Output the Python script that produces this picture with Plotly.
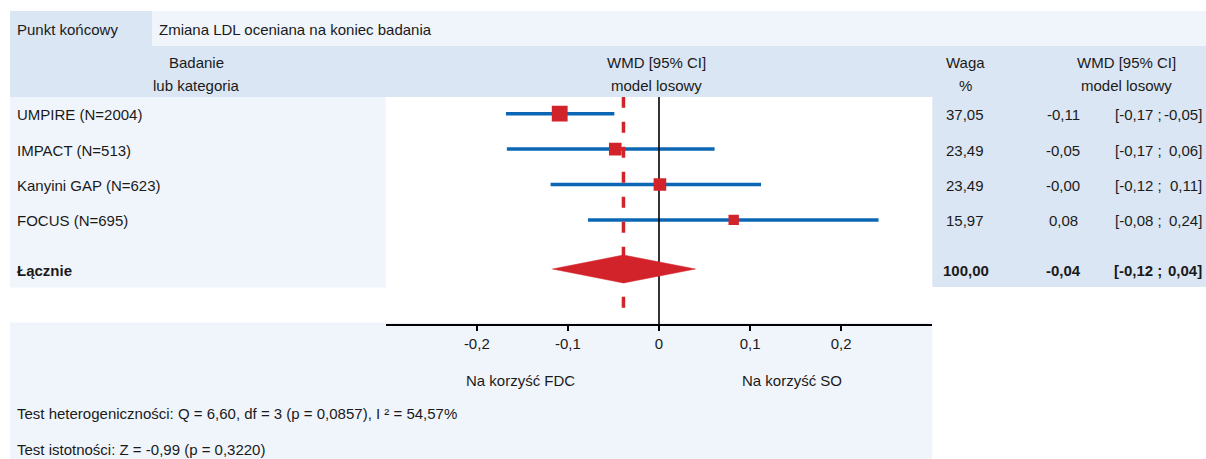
import math
import plotly.graph_objects as go

# ---------------- data ----------------
studies = ["UMPIRE (N=2004)", "IMPACT (N=513)", "Kanyini GAP (N=623)", "FOCUS (N=695)"]
wmd = [-0.109, -0.048, 0.001, 0.082]
ci_lo = [-0.168, -0.167, -0.119, -0.078]
ci_hi = [-0.049, 0.061, 0.112, 0.241]
weights = [37.05, 23.49, 23.49, 15.97]
weight_txt = ["37,05", "23,49", "23,49", "15,97"]
wmd_txt = ["-0,11", "-0,05", "-0,00", "0,08"]
lo_txt = ["[-0,17 ;", "[-0,17 ;", "[-0,12 ;", "[-0,08 ;"]
hi_txt = ["-0,05]", "0,06]", "0,11]", "0,24]"]

pooled_label = "Łącznie"
pooled_wmd = -0.039
pooled_lo = -0.117
pooled_hi = 0.040
pooled_weight_txt = "100,00"
pooled_wmd_txt = "-0,04"
pooled_lo_txt = "[-0,12 ;"
pooled_hi_txt = "0,04]"

tick_vals = [-0.2, -0.1, 0, 0.1, 0.2]
tick_text = ["-0,2", "-0,1", "0", "0,1", "0,2"]

endpoint_label = "Punkt końcowy"
endpoint_text = "Zmiana LDL oceniana na koniec badania"
hetero_text = "Test heterogeniczności: Q = 6,60, df = 3 (p = 0,0857), I ² = 54,57%"
signif_text = "Test istotności: Z = -0,99 (p = 0,3220)"
favours_left = "Na korzyść FDC"
favours_right = "Na korzyść SO"

# ---------------- layout constants (page pixels) ----------------
W, H = 1206, 459
PLOT_X0, PLOT_X1 = 385.7, 932.3
PLOT_Y0, PLOT_Y1 = 97, 324
ROW0, ROW_STEP = 113.7, 35.4
POOLED_Y = 269
DIAMOND_HALF = 14
TEXT_DY = 1.0
LEFT_X = 15

DARK = "#dae6f3"
LIGHT = "#f0f5fb"
RED = "#d2232a"
BLUE = "#0b67b3"
TXT = "#1a1a1a"
FONT = "Liberation Sans, Arial, sans-serif"
FS = 15

row_y = [ROW0 + i * ROW_STEP for i in range(len(studies))]

def px(x):
    return x / W

def py(y):
    return 1 - y / H

shapes = []
def rect(x0, y0, x1, y1, color):
    shapes.append(dict(type="rect", xref="paper", yref="paper",
                       x0=px(x0), x1=px(x1), y0=py(y1), y1=py(y0),
                       fillcolor=color, line=dict(width=0), layer="below"))

rect(10, 11, 152, 46, DARK)
rect(152, 11, W, 46, LIGHT)
rect(10, 46, W, 97, DARK)
rect(10, 97, PLOT_X0, 287.5, LIGHT)
rect(PLOT_X1, 97, W, 287, DARK)
rect(10, 322.5, PLOT_X1, H, LIGHT)

annotations = []
def ann(x, y, text, xanchor="left", bold=False):
    if bold:
        text = "<b>" + text + "</b>"
    annotations.append(dict(xref="paper", yref="paper", x=px(x), y=py(y),
                            text=text, showarrow=False, xanchor=xanchor,
                            yanchor="middle",
                            font=dict(family=FONT, size=FS, color=TXT)))

ann(LEFT_X, 30, endpoint_label)
ann(157, 30, endpoint_text)
ann(196, 63, "Badanie", "center")
ann(196, 86, "lub kategoria", "center")
ann(656, 63, "WMD [95% CI]", "center")
ann(656, 86, "model losowy", "center")
ann(965, 63, "Waga", "center")
ann(965, 86, "%", "center")
ann(1126, 63, "WMD [95% CI]", "center")
ann(1126, 86, "model losowy", "center")

for i, name in enumerate(studies):
    y = row_y[i] + TEXT_DY
    ann(LEFT_X, y, name)
    ann(965, y, weight_txt[i], "center")
    ann(1063, y, wmd_txt[i], "center")
    ann(1164, y, lo_txt[i], "right")
    ann(1204, y, hi_txt[i], "right")

yp = POOLED_Y + TEXT_DY
ann(LEFT_X, yp, pooled_label, bold=True)
ann(966, yp, pooled_weight_txt, "center", bold=True)
ann(1063, yp, pooled_wmd_txt, "center", bold=True)
ann(1164, yp, pooled_lo_txt, "right", bold=True)
ann(1204, yp, pooled_hi_txt, "right", bold=True)

ann(520, 380, favours_left, "center")
ann(792, 380, favours_right, "center")
ann(LEFT_X, 413, hetero_text)
ann(LEFT_X, 449, signif_text)

fig = go.Figure()

# confidence intervals
for i in range(len(studies)):
    fig.add_trace(go.Scatter(x=[ci_lo[i], ci_hi[i]], y=[row_y[i], row_y[i]],
                             mode="lines", line=dict(color=BLUE, width=3.5),
                             hoverinfo="skip", showlegend=False))

# line of no effect
fig.add_trace(go.Scatter(x=[0, 0], y=[PLOT_Y0, PLOT_Y1], mode="lines",
                         line=dict(color="black", width=1.6),
                         hoverinfo="skip", showlegend=False))

# pooled estimate dashed line
fig.add_trace(go.Scatter(x=[pooled_wmd, pooled_wmd], y=[96.7, 307.7], mode="lines",
                         line=dict(color=RED, width=3.5, dash="11px,14px"),
                         hoverinfo="skip", showlegend=False))

# study squares
fig.add_trace(go.Scatter(x=wmd, y=row_y, mode="markers",
                         marker=dict(symbol="square", color=RED, opacity=1,
                                     size=[2.6 * math.sqrt(w) for w in weights],
                                     line=dict(width=0)),
                         hoverinfo="skip", showlegend=False))

# pooled diamond
fig.add_trace(go.Scatter(x=[pooled_lo, pooled_wmd, pooled_hi, pooled_wmd, pooled_lo],
                         y=[POOLED_Y, POOLED_Y - DIAMOND_HALF, POOLED_Y, POOLED_Y + DIAMOND_HALF, POOLED_Y],
                         mode="lines", fill="toself", fillcolor=RED,
                         line=dict(color=RED, width=0.5),
                         hoverinfo="skip", showlegend=False))

fig.update_layout(
    width=W, height=H,
    margin=dict(l=0, r=0, t=0, b=0),
    paper_bgcolor="white", plot_bgcolor="rgba(0,0,0,0)",
    shapes=shapes, annotations=annotations,
    font=dict(family=FONT, size=FS, color=TXT),
    xaxis=dict(domain=[px(PLOT_X0), px(PLOT_X1)], range=[-0.3, 0.3],
               showgrid=False, zeroline=False, showline=True, linecolor="black",
               linewidth=2, ticks="outside", ticklen=5, tickwidth=1.5,
               tickcolor="black", tickvals=tick_vals, ticktext=tick_text,
               tickfont=dict(family=FONT, size=FS, color=TXT), fixedrange=True),
    yaxis=dict(domain=[py(PLOT_Y1), py(PLOT_Y0)], range=[PLOT_Y1, PLOT_Y0],
               showgrid=False, zeroline=False, showline=False,
               showticklabels=False, ticks="", fixedrange=True),
)

fig.write_html(
    "out.html",
    config={"displayModeBar": False, "staticPlot": True},
    post_script="document.body.style.margin='0';document.body.style.overflow='hidden';",
)
